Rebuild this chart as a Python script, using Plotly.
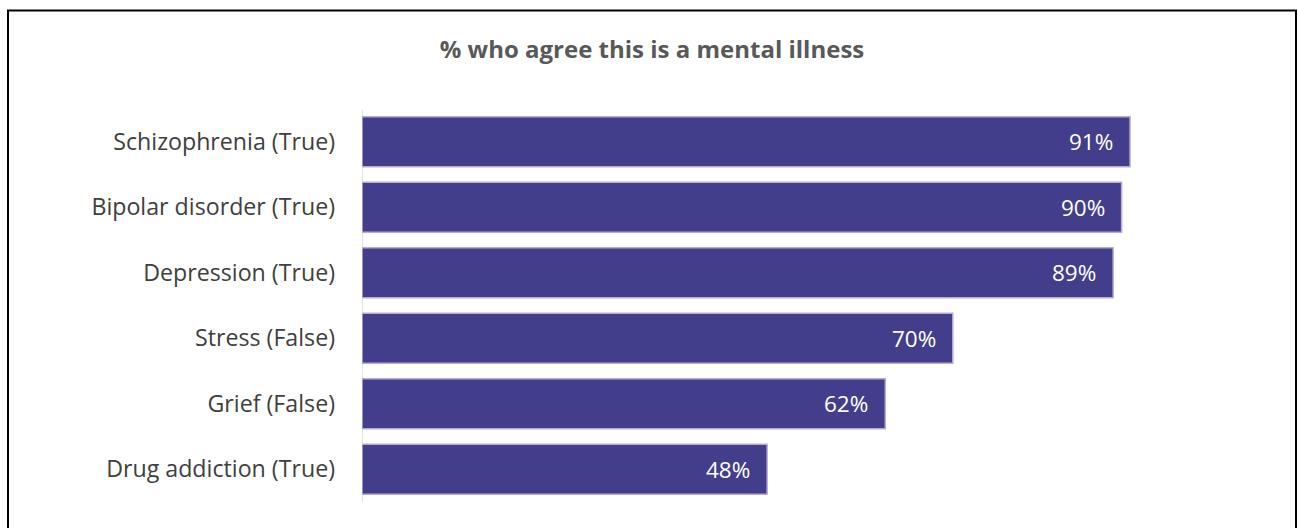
import plotly.graph_objects as go

categories = ["Schizophrenia (True)", "Bipolar disorder (True)", "Depression (True)",
              "Stress (False)", "Grief (False)", "Drug addiction (True)"]
values = [0.91, 0.90, 0.89, 0.70, 0.62, 0.48]
labels = ["91%", "90%", "89%", "70%", "62%", "48%"]

W, H = 1298, 528
L, R, T, B = 362, 92, 109, 26
pw, ph = W - L - R, H - T - B

fig = go.Figure(go.Bar(
    y=categories, x=values, orientation="h",
    marker=dict(color="#433E8B", line=dict(color="#B7A9D8", width=1.5)),
    hoverinfo="skip",
))

# value labels, right-aligned inside each bar end
for cat, val, lab in zip(categories, values, labels):
    fig.add_annotation(x=val, y=cat, text=lab, showarrow=False,
                       xanchor="right", yanchor="middle", xshift=-15,
                       font=dict(color="white", size=22.5, family="Open Sans"))

# outer frame around the whole chart
fig.add_shape(type="rect", xref="paper", yref="paper",
              x0=(8 - L) / pw, x1=(1296 - L) / pw,
              y0=(H - B - 540) / ph, y1=(H - B - 10.5) / ph,
              line=dict(color="black", width=2), fillcolor="rgba(0,0,0,0)")

fig.update_layout(
    width=W, height=H,
    margin=dict(l=L, r=R, t=T, b=B),
    paper_bgcolor="white", plot_bgcolor="white",
    bargap=0.24,
    showlegend=False,
    title=dict(text="<b>% who agree this is a mental illness</b>",
               x=652 / W, xanchor="center", y=1 - 50 / H, yanchor="middle",
               font=dict(size=24, color="#595959", family="Open Sans")),
    xaxis=dict(range=[0, 1], visible=False, fixedrange=True),
    yaxis=dict(autorange="reversed", showgrid=False, zeroline=False,
               showline=False, ticks="", ticklabelstandoff=26,
               tickfont=dict(size=23.2, color="#404040", family="Open Sans")),
)

# vertical category axis line
fig.add_shape(type="line", xref="x", yref="paper", x0=0, x1=0,
              y0=0, y1=(H - B - 110) / ph,
              line=dict(color="#D9D9D9", width=1.5), layer="below")

fig.write_html("out.html")
